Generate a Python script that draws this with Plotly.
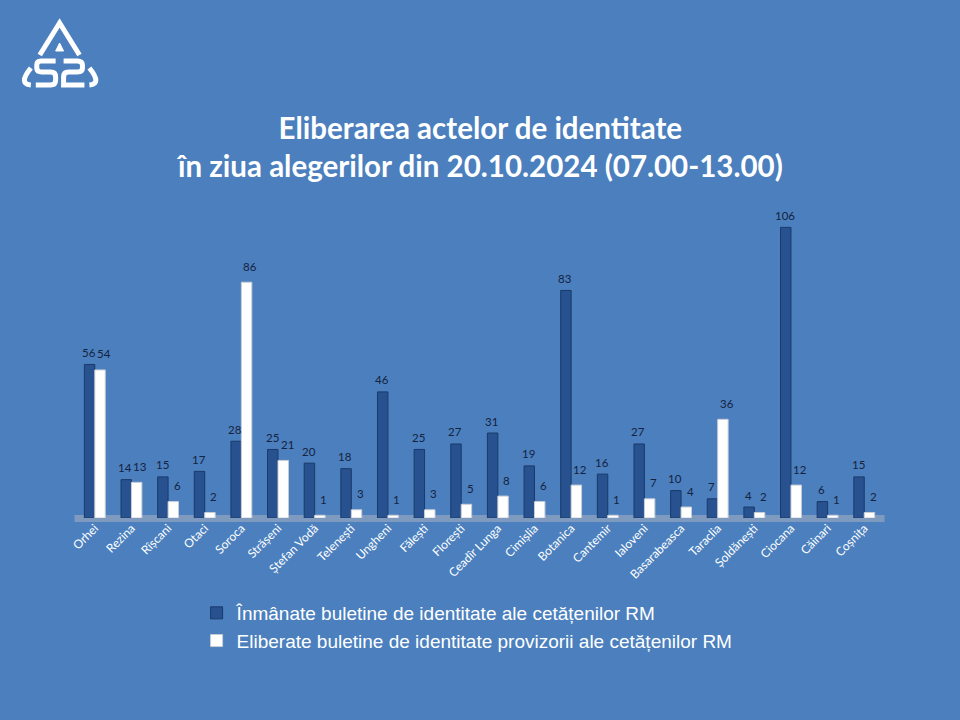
import plotly.graph_objects as go

categories = ["Orhei", "Rezina", "Rîșcani", "Otaci", "Soroca", "Strășeni", "Ștefan Vodă",
              "Telenești", "Ungheni", "Fălești", "Florești", "Ceadîr Lunga", "Cimișlia",
              "Botanica", "Cantemir", "Ialoveni", "Basarabeasca", "Taraclia", "Șoldănești",
              "Ciocana", "Căinari", "Coșnița"]
inmanate = [56, 14, 15, 17, 28, 25, 20, 18, 46, 25, 27, 31, 19, 83, 16, 27, 10, 7, 4, 106, 6, 15]
provizorii = [54, 13, 6, 2, 86, 21, 1, 3, 1, 3, 5, 8, 6, 12, 1, 7, 4, 36, 2, 12, 1, 2]

series_names = ["Înmânate buletine de identitate ale cetățenilor RM",
                "Eliberate buletine de identitate provizorii ale cetățenilor RM"]
title_lines = ["Eliberarea actelor de identitate",
               "în ziua alegerilor din 20.10.2024 (07.00-13.00)"]

BG = "#4B7FBE"
W, H = 960, 720


def px(x, y):
    return x / W, 1 - y / H


def path(points_cmds, dx=0):
    out = []
    for cmd, pts in points_cmds:
        coords = []
        for (x, y) in pts:
            a, b = px(x + dx, y)
            coords.append(f"{a:.5f},{b:.5f}")
        out.append(cmd + " ".join(coords))
    return " ".join(out)


fig = go.Figure()
fig.add_trace(go.Bar(
    x=categories, y=inmanate, name=series_names[0],
    marker=dict(color="#27528F", line=dict(color="#1A3A6A", width=1)),
))
fig.add_trace(go.Bar(
    x=categories, y=provizorii, name=series_names[1],
    marker=dict(color="#FFFFFF", line=dict(color="#C8CDD6", width=1)),
))

annotations = []
label_font = dict(color="#14233F", size=11.5, family="Lato")
for c, v in zip(categories, inmanate):
    annotations.append(dict(x=c, y=v, xref="x", yref="y", text=str(v), showarrow=False,
                            xshift=-6, yshift=12, font=label_font))
for c, v in zip(categories, provizorii):
    annotations.append(dict(x=c, y=v, xref="x", yref="y", text=str(v), showarrow=False,
                            xshift=9, yshift=16, font=label_font))

shapes = []
# floor strip
x0, y0 = px(68, 515)
x1, y1 = px(884, 522)
shapes.append(dict(type="rect", xref="paper", yref="paper", x0=x0, y0=y0, x1=x1, y1=y1,
                   fillcolor="rgba(160,172,190,0.6)", line=dict(width=0), layer="below"))

# logo (decorative)
LDX = -4
logo_line = dict(color="white", width=5)
shapes.append(dict(type="path", xref="paper", yref="paper",
                   path=path([("M", [(37, 55)]), ("L", [(57, 23)]), ("L", [(77, 55)])], LDX),
                   line=logo_line))
shapes.append(dict(type="path", xref="paper", yref="paper",
                   path=path([("M", [(57, 43)]), ("L", [(53, 51)]), ("L", [(61, 51)])], LDX) + " Z",
                   fillcolor="white", line=dict(color="white", width=1)))
shapes.append(dict(type="path", xref="paper", yref="paper",
                   path=path([("M", [(53, 61)]), ("L", [(38, 61)]), ("Q", [(34, 61), (34, 65)]),
                              ("L", [(34, 68)]), ("Q", [(34, 72), (39, 72)]), ("L", [(48, 72)]),
                              ("Q", [(53, 72), (53, 77)]), ("L", [(53, 80)]),
                              ("Q", [(53, 85), (48, 85)]), ("L", [(33, 85)])], LDX),
                   line=logo_line))
shapes.append(dict(type="path", xref="paper", yref="paper",
                   path=path([("M", [(61, 61)]), ("L", [(75, 61)]), ("Q", [(80, 61), (80, 65)]),
                              ("L", [(80, 68)]), ("Q", [(80, 72), (75, 72)]), ("L", [(66, 72)]),
                              ("Q", [(61, 72), (61, 77)]), ("L", [(61, 85)]), ("L", [(82, 85)])], LDX),
                   line=logo_line))
shapes.append(dict(type="path", xref="paper", yref="paper",
                   path=path([("M", [(28, 68)]), ("Q", [(15, 84), (28, 85)])], LDX),
                   line=logo_line))
shapes.append(dict(type="path", xref="paper", yref="paper",
                   path=path([("M", [(87, 68)]), ("Q", [(100, 84), (87, 85)])], LDX),
                   line=logo_line))

tx, ty = px(476, 147)
annotations.append(dict(text="<b>" + title_lines[0] + "</b><br><b>" + title_lines[1] + "</b>",
                        x=tx, y=ty, xref="paper", yref="paper", showarrow=False,
                        font=dict(family="Lato", size=29.5, color="white"), align="center",
                        xanchor="center", yanchor="middle"))

xd0, _ = px(70, 0)
xd1, _ = px(882, 0)
_, yd0 = px(0, 518)
_, yd1 = px(0, 189)

fig.update_layout(
    width=W, height=H,
    margin=dict(l=0, r=0, t=0, b=0),
    paper_bgcolor=BG, plot_bgcolor=BG,
    barmode="group", bargap=0.43, bargroupgap=0,
    xaxis=dict(domain=[xd0, xd1], range=[-0.5, len(categories) - 0.5], tickangle=-45,
               showgrid=False, showline=False,
               ticks="", tickfont=dict(family="Lato", size=12, color="white"),
               zeroline=False),
    yaxis=dict(domain=[yd0, yd1], range=[0, 120], visible=False, showgrid=False,
               zeroline=False),
    legend=dict(x=px(191, 0)[0], y=px(0, 594)[1], xanchor="left", yanchor="top",
                orientation="v", font=dict(family="Liberation Sans", size=19, color="white"),
                bgcolor="rgba(0,0,0,0)", tracegroupgap=0),
    shapes=shapes, annotations=annotations,
    showlegend=True,
)

fig.write_html("out.html", config={"displayModeBar": False}, post_script=(
    "document.documentElement.style.margin='0';"
    "document.body.style.margin='0';"
    "document.body.style.overflow='hidden';"
    "document.body.style.background='" + BG + "';"
))
